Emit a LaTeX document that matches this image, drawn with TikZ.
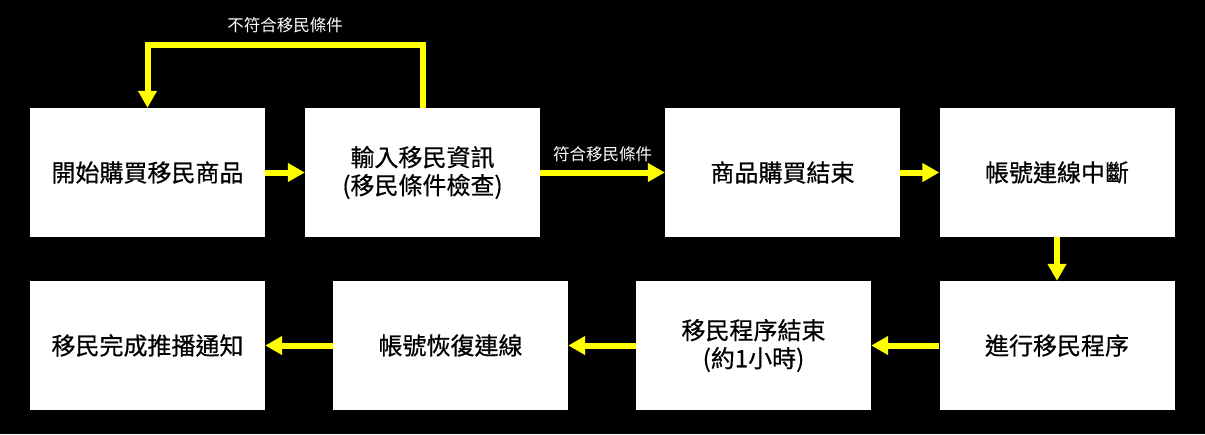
\documentclass[tikz,border=0pt]{standalone}
\usepackage{fontspec}
\newfontfamily\cjk[FakeBold=0.6]{Noto Sans CJK TC}
\newfontfamily\cjklabel{Noto Sans CJK TC}
\usetikzlibrary{arrows.meta, positioning}
\definecolor{flowyellow}{RGB}{255, 255, 0}
\definecolor{boxwhite}{RGB}{255, 255, 255}

\begin{document}
\begin{tikzpicture}[x=1pt, y=1pt,
  stepbox/.style={fill=boxwhite, minimum width=235pt, minimum height=129pt, inner sep=0pt,
    align=center, font=\cjk\fontsize{24}{28}\selectfont},
  flow/.style={draw=flowyellow, line width=6pt, -{Triangle[length=17pt, width=18pt]}},
  flowlabel/.style={text=white, font=\cjklabel\fontsize{16.5}{19}\selectfont, inner sep=1pt}]
  % 背景
  \fill[black] (0, 0) rectangle (1205, -434);
  \useasboundingbox (0, 0) rectangle (1205, -434);

  % 第一列
  \node[stepbox] (buy) at (147.5, -172.5) {開始購買移民商品};
  \node[stepbox] (input) at (422.5, -172.5) {輸入移民資訊\\(移民條件檢查)};
  \node[stepbox] (buyend) at (782.5, -172.5) {商品購買結束};
  \node[stepbox] (offline) at (1057, -172.5) {帳號連線中斷};

  % 第二列
  \node[stepbox] (migrate) at (1057, -345.5) {進行移民程序};
  \node[stepbox] (migend) at (753.5, -345.5) {移民程序結束\\(約1小時)};
  \node[stepbox] (online) at (450.5, -345.5) {帳號恢復連線};
  \node[stepbox] (notify) at (147.5, -345.5) {移民完成推播通知};

  % 箭頭
  \draw[flow] (input.north) -- ++(0, 62.5) -| node[flowlabel, pos=0.25, above=8pt] {不符合移民條件} (buy.north);
  \draw[flow] (buy.east) -- (input.west);
  \draw[flow] (input.east) -- node[flowlabel, above=7pt] {符合移民條件} (buyend.west);
  \draw[flow] (buyend.east) -- (offline.west);
  \draw[flow] (offline.south) -- (migrate.north);
  \draw[flow] (migrate.west) -- (migend.east);
  \draw[flow] (migend.west) -- (online.east);
  \draw[flow] (online.west) -- (notify.east);
\end{tikzpicture}
\end{document}
